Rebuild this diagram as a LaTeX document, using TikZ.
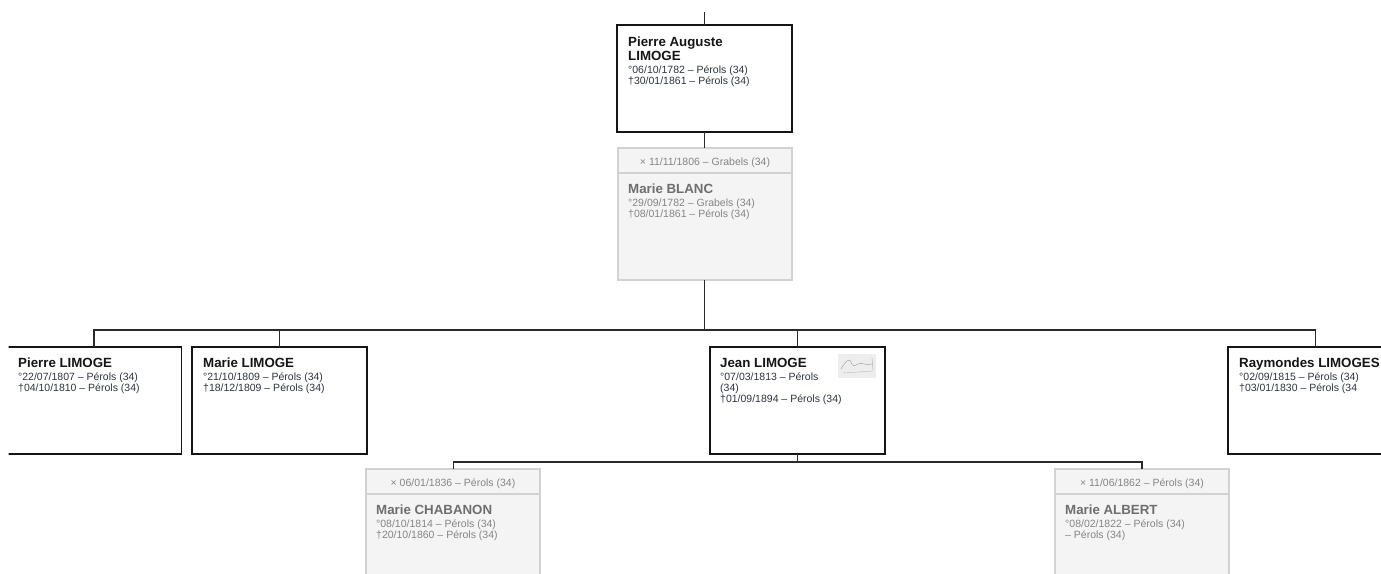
\documentclass[tikz,border=0pt]{standalone}
\usepackage{fontspec}
\setmainfont{Liberation Sans}
\definecolor{linec}{HTML}{2A2A2A}
\definecolor{namec}{HTML}{151515}
\definecolor{datec}{HTML}{2E3440}
\definecolor{spfill}{HTML}{F4F4F4}
\definecolor{spdraw}{HTML}{D2D2D2}
\definecolor{spname}{HTML}{6E6E6E}
\definecolor{spdate}{HTML}{858585}
\begin{document}
\begin{tikzpicture}[x=1pt,y=-1pt,
  mainbox/.style={draw=namec,line width=1.6pt,fill=white,minimum width=175pt,minimum height=107pt,anchor=north west,inner sep=0pt,outer sep=0pt},
  spbox/.style={draw=spdraw,line width=1.2pt,fill=spfill,minimum width=174pt,minimum height=132pt,anchor=north west,inner sep=0pt,outer sep=0pt},
  tree/.style={draw=linec,line width=1.3pt},
  nametxt/.style={font=\fontsize{13.3}{14}\selectfont\bfseries,text=namec,anchor=base west,inner sep=0pt},
  datetxt/.style={font=\fontsize{10.5}{11}\selectfont,text=datec,anchor=base west,inner sep=0pt},
  spnametxt/.style={font=\fontsize{13.3}{14}\selectfont\bfseries,text=spname,anchor=base west,inner sep=0pt},
  spdatetxt/.style={font=\fontsize{10.5}{11}\selectfont,text=spdate,anchor=base west,inner sep=0pt},
  headtxt/.style={font=\fontsize{10.5}{11}\selectfont,text=spdate,anchor=base,inner sep=0pt}]
\useasboundingbox (0,0) rectangle (1381,573);
\fill[white] (0,0) rectangle (1381,573);
\clip (8.6,0) rectangle (1381,573);

% ---------- boxes ----------
\node[mainbox] (pa) at (617,25) {};
\node[spbox] (mb) at (618,148) {};
\draw[spdraw,line width=1.2pt] (mb.west |- 0,173) -- (mb.east |- 0,173);

\node[mainbox] (c1) at (6.5,347) {};
\node[mainbox] (c2) at (192,347) {};
\node[mainbox] (c3) at (710,347) {};
\node[mainbox] (c4) at (1228,347) {};

\node[spbox,minimum height=140pt] (s1) at (366,469) {};
\draw[spdraw,line width=1.2pt] (s1.west |- 0,494) -- (s1.east |- 0,494);
\node[spbox,minimum height=140pt] (s2) at (1055,469) {};
\draw[spdraw,line width=1.2pt] (s2.west |- 0,494) -- (s2.east |- 0,494);

% ---------- connectors ----------
\coordinate (top) at (706,12);
\coordinate (bar) at (706,330);
\coordinate (jbar) at (797,462);
\draw[tree] (pa.north |- top) -- (pa.north);
\draw[tree] (pa.south) -- (pa.south |- mb.north);
\draw[tree] (pa.south |- mb.south) -- (pa.south |- bar);
\draw[tree] (c1.north) |- (bar) -| (c4.north);
\draw[tree] (c2.north) -- (c2.north |- bar);
\draw[tree] (c3.north) -- (c3.north |- bar);
\draw[tree] (c3.south) -- (c3.south |- jbar);
\draw[tree] ([xshift=0.5pt]s1.north) |- (c3.south |- jbar) -| (s2.north);

% ---------- Pierre Auguste ----------
\node[nametxt] (paN1) at ([shift={(11,21)}]pa.north west) {Pierre Auguste};
\node[nametxt] (paN2) at ([shift={(11,35)}]pa.north west) {LIMOGE};
\node[datetxt] (paD1) at ([shift={(11,48)}]pa.north west) {°06/10/1782 – Pérols (34)};
\node[datetxt] (paD2) at ([shift={(11,59)}]pa.north west) {†30/01/1861 – Pérols (34)};

% ---------- Marie BLANC ----------
\node[headtxt] (mbH) at ([shift={(0,17)}]mb.north) {× 11/11/1806 – Grabels (34)};
\node[spnametxt] (mbN) at ([shift={(10,45)}]mb.north west) {Marie BLANC};
\node[spdatetxt] (mbD1) at ([shift={(10,58)}]mb.north west) {°29/09/1782 – Grabels (34)};
\node[spdatetxt] (mbD2) at ([shift={(10,69)}]mb.north west) {†08/01/1861 – Pérols (34)};

% ---------- children ----------
\node[nametxt] (c1N) at ([shift={(11.5,20)}]c1.north west) {Pierre LIMOGE};
\node[datetxt] (c1D1) at ([shift={(11.5,33)}]c1.north west) {°22/07/1807 – Pérols (34)};
\node[datetxt] (c1D2) at ([shift={(11.5,44)}]c1.north west) {†04/10/1810 – Pérols (34)};

\node[nametxt] (c2N) at ([shift={(11,20)}]c2.north west) {Marie LIMOGE};
\node[datetxt] (c2D1) at ([shift={(11,33)}]c2.north west) {°21/10/1809 – Pérols (34)};
\node[datetxt] (c2D2) at ([shift={(11,44)}]c2.north west) {†18/12/1809 – Pérols (34)};

\node[nametxt] (c3N) at ([shift={(10,20)}]c3.north west) {Jean LIMOGE};
\node[datetxt] (c3D1) at ([shift={(10,33)}]c3.north west) {°07/03/1813 – Pérols};
\node[datetxt] (c3D2) at ([shift={(10,44)}]c3.north west) {(34)};
\node[datetxt] (c3D3) at ([shift={(10,55)}]c3.north west) {†01/09/1894 – Pérols (34)};
% signature thumbnail
\fill[gray!14] (838,354) rectangle (876,378);
\draw[gray!70,line width=0.5pt] (841,369) .. controls (846,360) and (850,358) .. (851,362)
  .. controls (852,367) and (855,366) .. (858,364) .. controls (862,362) and (866,366) .. (872,364);
\draw[gray!55,line width=0.4pt] (843,373) -- (873,371);
\draw[gray!60,line width=0.5pt] (872,358) -- (873,370);

\node[nametxt] (c4N) at ([shift={(11,20)}]c4.north west) {Raymondes LIMOGES};
\node[datetxt] (c4D1) at ([shift={(11,33)}]c4.north west) {°02/09/1815 – Pérols (34)};
\node[datetxt] (c4D2) at ([shift={(11,44)}]c4.north west) {†03/01/1830 – Pérols (34};

% ---------- spouses of Jean ----------
\node[headtxt] (s1H) at ([shift={(0,17)}]s1.north) {× 06/01/1836 – Pérols (34)};
\node[spnametxt] (s1N) at ([shift={(10,45)}]s1.north west) {Marie CHABANON};
\node[spdatetxt] (s1D1) at ([shift={(10,58)}]s1.north west) {°08/10/1814 – Pérols (34)};
\node[spdatetxt] (s1D2) at ([shift={(10,69)}]s1.north west) {†20/10/1860 – Pérols (34)};

\node[headtxt] (s2H) at ([shift={(0,17)}]s2.north) {× 11/06/1862 – Pérols (34)};
\node[spnametxt] (s2N) at ([shift={(10,45)}]s2.north west) {Marie ALBERT};
\node[spdatetxt] (s2D1) at ([shift={(10,58)}]s2.north west) {°08/02/1822 – Pérols (34)};
\node[spdatetxt] (s2D2) at ([shift={(10,69)}]s2.north west) {– Pérols (34)};
\end{tikzpicture}
\end{document}
